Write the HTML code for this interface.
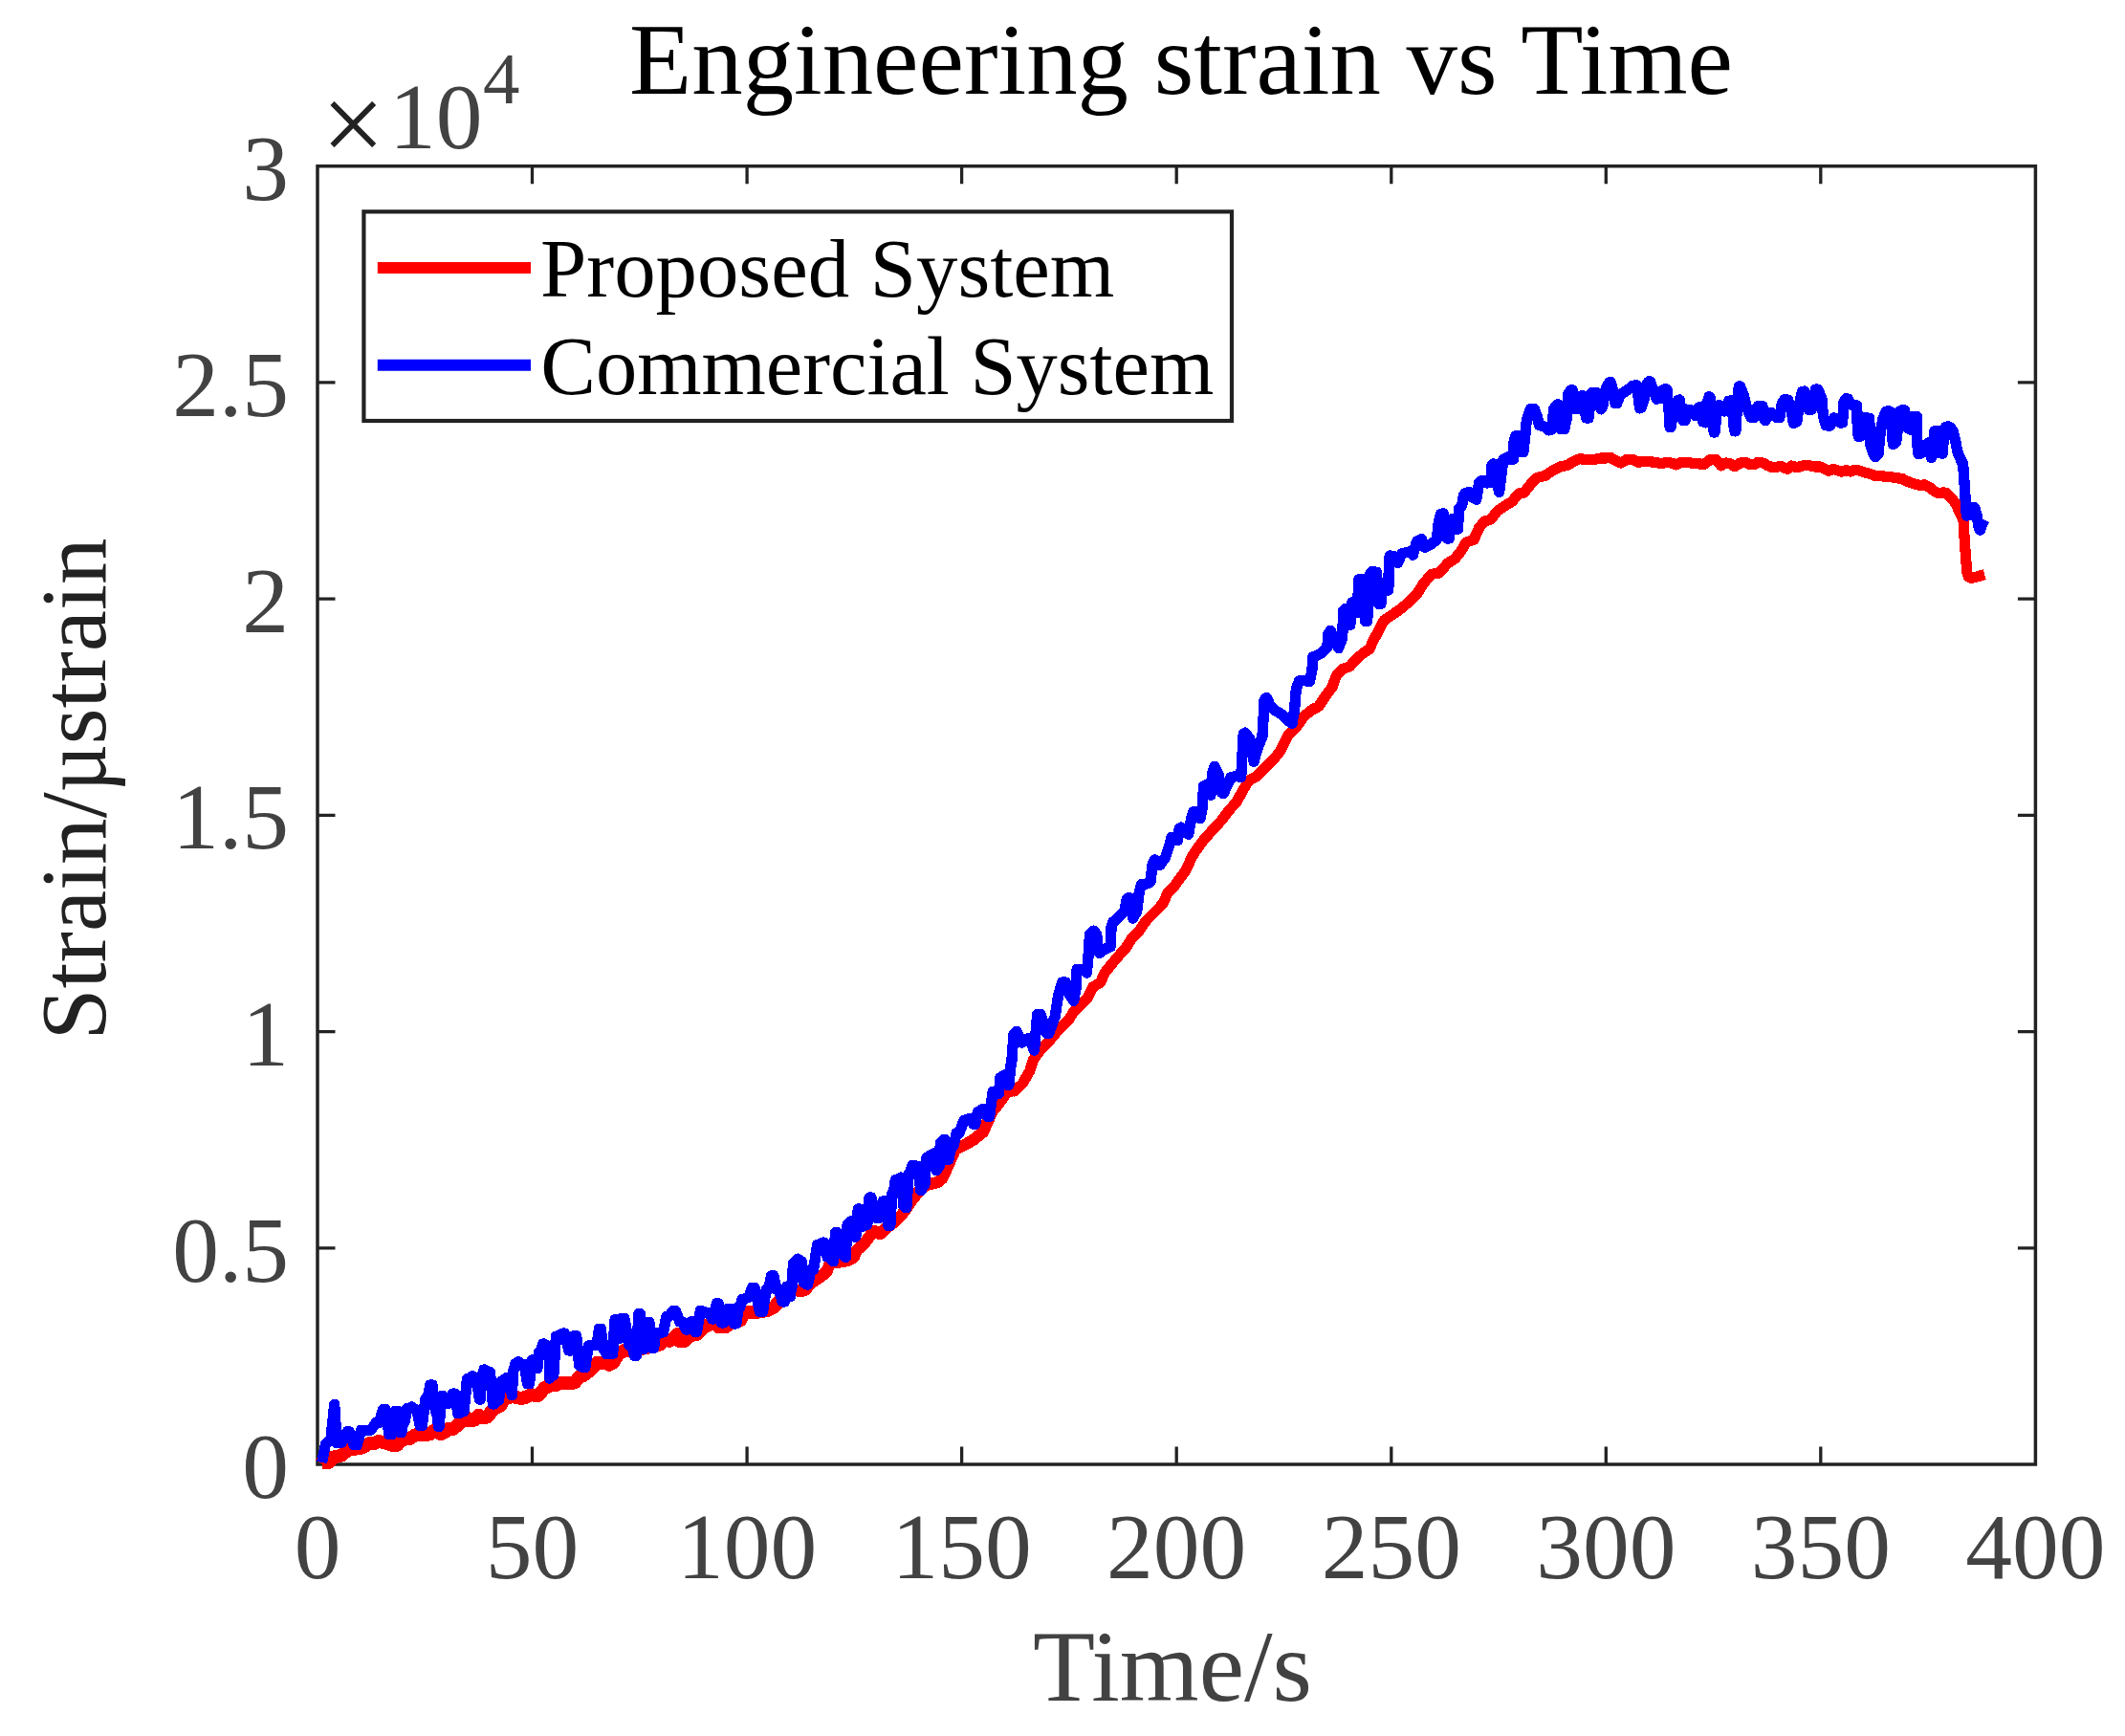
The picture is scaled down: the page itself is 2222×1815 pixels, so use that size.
<!DOCTYPE html>
<html lang="en"><head><meta charset="utf-8"><title>Engineering strain vs Time</title>
<style>html,body{margin:0;padding:0;background:#fff}svg{display:block}text{font-family:"Liberation Serif","Times New Roman",serif}</style></head><body>
<svg width="2222" height="1815" viewBox="0 0 2222 1815">
<rect width="2222" height="1815" fill="#fff"/>
<rect x="332.0" y="173.7" width="1796.4" height="1357.3" fill="none" stroke="#222222" stroke-width="3.5"/>
<path d="M556.5,1531.0v-18.5M556.5,173.7v18.5M781.1,1531.0v-18.5M781.1,173.7v18.5M1005.6,1531.0v-18.5M1005.6,173.7v18.5M1230.2,1531.0v-18.5M1230.2,173.7v18.5M1454.8,1531.0v-18.5M1454.8,173.7v18.5M1679.3,1531.0v-18.5M1679.3,173.7v18.5M1903.8,1531.0v-18.5M1903.8,173.7v18.5M332.0,1304.8h18.5M2128.4,1304.8h-18.5M332.0,1078.6h18.5M2128.4,1078.6h-18.5M332.0,852.4h18.5M2128.4,852.4h-18.5M332.0,626.1h18.5M2128.4,626.1h-18.5M332.0,399.9h18.5M2128.4,399.9h-18.5" stroke="#222222" stroke-width="3.3" fill="none"/>
<g id="curves" shape-rendering="crispEdges"><polyline points="336.0,1530.2 336.5,1529.4 343.2,1529.4 348.1,1523.8 356.7,1521.7 364.0,1516.0 371.4,1514.7 378.7,1513.5 386.1,1509.1 391.0,1509.1 395.9,1506.9 403.2,1508.5 410.5,1510.9 415.4,1510.9 420.3,1504.9 427.7,1504.2 435.0,1500.0 442.4,1500.5 449.7,1499.3 454.6,1495.2 460.7,1499.3 465.6,1496.8 468.7,1494.1 474.2,1493.8 481.5,1487.0 487.6,1481.5 490.1,1485.2 496.2,1484.6 500.5,1479.7 504.8,1482.2 509.6,1481.5 515.8,1473.0 523.1,1469.9 526.8,1462.6 535.3,1460.1 545.1,1462.0 550.0,1460.7 554.9,1458.3 562.9,1458.9 569.6,1451.0 578.2,1447.6 581.6,1448.2 584.7,1445.8 592.0,1445.8 596.3,1446.4 601.2,1445.2 605.5,1439.7 609.2,1438.5 617.7,1432.3 623.8,1425.0 631.2,1424.4 637.3,1426.8 641.6,1424.4 645.9,1416.4 653.2,1411.5 659.3,1411.5 667.9,1410.9 677.7,1408.5 687.5,1406.0 690.5,1405.4 693.6,1399.9 699.7,1401.8 705.8,1398.1 708.3,1395.0 710.7,1401.8 716.2,1401.8 721.1,1396.2 729.1,1395.0 736.4,1387.1 743.7,1384.0 746.8,1381.6 751.1,1387.1 759.0,1387.1 764.5,1383.4 774.3,1380.3 778.0,1372.4 787.8,1372.4 795.1,1371.2 803.1,1369.9 809.8,1366.3 815.9,1359.5 822.0,1354.6 829.2,1347.4 836.7,1350.2 841.7,1348.9 848.4,1341.3 858.4,1334.7 864.3,1329.6 868.5,1319.6 876.8,1319.6 886.8,1317.9 892.7,1314.6 896.0,1307.1 903.5,1300.4 913.6,1287.0 920.3,1290.0 926.9,1283.7 937.0,1276.2 942.8,1270.3 953.7,1254.4 961.2,1245.3 967.0,1239.4 980.4,1236.1 985.4,1231.9 991.3,1218.5 998.8,1201.8 1010.5,1196.0 1018.8,1191.0 1028.0,1183.4 1037.2,1162.5 1045.6,1151.7 1053.9,1139.3 1060.6,1141.0 1069.0,1133.1 1076.6,1120.0 1080.6,1107.7 1088.7,1096.5 1098.4,1086.8 1106.5,1077.1 1117.7,1065.8 1122.6,1057.7 1130.6,1049.7 1137.1,1043.2 1142.7,1031.9 1150.8,1027.1 1154.8,1017.4 1161.3,1009.4 1169.4,999.7 1177.4,990.8 1183.9,980.3 1191.9,972.3 1198.4,962.6 1208.1,952.9 1216.1,944.8 1221.0,933.5 1227.4,927.1 1233.9,918.2 1240.3,909.4 1246.0,896.5 1250.0,890.0 1259.2,877.3 1268.4,867.3 1277.6,857.3 1285.1,847.3 1292.6,838.9 1300.2,825.5 1306.0,815.5 1313.5,812.2 1323.6,802.1 1331.9,793.8 1338.6,785.4 1346.9,768.7 1355.3,760.4 1363.7,748.7 1372.0,742.0 1378.7,738.7 1385.4,728.6 1392.9,718.6 1397.1,706.9 1403.7,699.4 1411.3,696.9 1417.1,690.2 1424.6,683.5 1432.1,678.5 1435.9,669.5 1441.5,659.8 1447.0,648.8 1455.3,643.2 1465.0,636.3 1473.3,629.4 1481.6,621.1 1488.5,610.0 1496.8,600.4 1505.1,599.0 1513.4,589.3 1521.7,583.8 1528.6,574.8 1532.7,567.2 1541.0,564.4 1546.5,552.0 1552.1,545.1 1559.0,543.0 1565.9,534.0 1574.2,528.5 1581.1,524.3 1588.0,516.0 1593.5,515.3 1600.5,506.4 1607.4,499.4 1615.7,497.4 1622.6,492.5 1630.9,488.4 1632.6,487.7 1639.3,486.2 1646.1,482.0 1652.2,479.5 1657.7,480.7 1665.6,480.7 1673.0,479.1 1680.3,478.9 1684.0,478.3 1687.7,480.7 1695.0,484.0 1700.5,480.7 1707.2,480.5 1713.4,483.5 1718.3,482.2 1725.6,482.8 1731.7,483.5 1737.8,484.8 1742.7,483.2 1749.5,484.4 1752.5,486.0 1758.0,483.2 1764.8,483.2 1769.4,484.3 1777.0,485.0 1781.9,485.3 1788.0,480.7 1794.1,480.5 1799.6,486.8 1804.5,484.0 1809.4,485.0 1813.9,487.7 1819.8,484.0 1825.0,483.2 1829.6,485.5 1835.1,485.3 1838.7,483.1 1844.5,484.3 1847.4,486.3 1852.0,488.3 1856.0,488.9 1862.0,487.1 1866.8,489.6 1869.0,490.3 1873.3,487.0 1877.6,488.3 1882.6,487.9 1887.2,486.3 1892.0,486.8 1897.8,488.0 1903.5,488.0 1909.3,491.2 1912.2,492.2 1916.8,490.4 1920.8,491.6 1925.6,493.2 1930.4,491.7 1935.2,493.0 1939.5,491.2 1943.8,492.0 1949.6,493.8 1955.4,495.3 1960.8,497.6 1968.3,497.9 1976.2,498.5 1982.7,499.8 1988.5,500.2 1992.8,502.7 2001.4,505.9 2007.2,507.4 2012.2,506.9 2017.6,509.3 2023.0,513.9 2027.4,515.9 2032.4,514.8 2035.3,515.5 2040.3,520.5 2044.4,525.7 2048.2,533.4 2053.0,544.2 2054.4,567.2 2055.9,587.4 2056.9,598.9 2058.3,602.9 2061.2,604.4 2067.7,602.9 2075.2,600.6" fill="none" stroke="#ff0000" stroke-width="11.2" stroke-linejoin="round" stroke-linecap="butt"/>
<polyline points="336.0,1530.2 336.5,1529.4 343.2,1529.4 348.1,1523.8 356.7,1521.7 364.0,1516.0 371.4,1514.7 378.7,1513.5 386.1,1509.1 391.0,1509.1 395.9,1506.9 403.2,1508.5 410.5,1510.9 415.4,1510.9 420.3,1504.9 427.7,1504.2 435.0,1500.0 442.4,1500.5 449.7,1499.3 454.6,1495.2 460.7,1499.3 465.6,1496.8 468.7,1494.1 474.2,1493.8 481.5,1487.0 487.6,1481.5 490.1,1485.2 496.2,1484.6 500.5,1479.7 504.8,1482.2 509.6,1481.5 515.8,1473.0 523.1,1469.9 526.8,1462.6 535.3,1460.1 545.1,1462.0 550.0,1460.7 554.9,1458.3 562.9,1458.9 569.6,1451.0 578.2,1447.6 581.6,1448.2 584.7,1445.8 592.0,1445.8 596.3,1446.4 601.2,1445.2 605.5,1439.7 609.2,1438.5 617.7,1432.3 623.8,1425.0 631.2,1424.4 637.3,1426.8 641.6,1424.4 645.9,1416.4 653.2,1411.5 659.3,1411.5 667.9,1410.9 677.7,1408.5 687.5,1406.0 690.5,1405.4 693.6,1399.9 699.7,1401.8 705.8,1398.1 708.3,1395.0 710.7,1401.8 716.2,1401.8 721.1,1396.2 729.1,1395.0 736.4,1387.1 743.7,1384.0 746.8,1381.6 751.1,1387.1 759.0,1387.1 764.5,1383.4 774.3,1380.3 778.0,1372.4 787.8,1372.4 795.1,1371.2 803.1,1369.9 809.8,1366.3 815.9,1359.5 822.0,1354.6 829.2,1347.4 836.7,1350.2 841.7,1348.9 848.4,1341.3 858.4,1334.7 864.3,1329.6 868.5,1319.6 876.8,1319.6 886.8,1317.9 892.7,1314.6 896.0,1307.1 903.5,1300.4 913.6,1287.0 920.3,1290.0 926.9,1283.7 937.0,1276.2 942.8,1270.3 953.7,1254.4 961.2,1245.3 967.0,1239.4 980.4,1236.1 985.4,1231.9 991.3,1218.5 998.8,1201.8 1010.5,1196.0 1018.8,1191.0 1028.0,1183.4 1037.2,1162.5 1045.6,1151.7 1053.9,1139.3 1060.6,1141.0" fill="none" stroke="#ff0000" stroke-width="12.4" stroke-linejoin="round" stroke-linecap="butt"/>
<polyline points="336.0,1530.2 336.5,1529.4 343.2,1529.4 348.1,1523.8 356.7,1521.7 364.0,1516.0 371.4,1514.7 378.7,1513.5 386.1,1509.1 391.0,1509.1 395.9,1506.9 403.2,1508.5 410.5,1510.9 415.4,1510.9 420.3,1504.9 427.7,1504.2 435.0,1500.0 442.4,1500.5 449.7,1499.3 454.6,1495.2 460.7,1499.3 465.6,1496.8 468.7,1494.1 474.2,1493.8 481.5,1487.0 487.6,1481.5 490.1,1485.2 496.2,1484.6 500.5,1479.7 504.8,1482.2 509.6,1481.5 515.8,1473.0 523.1,1469.9 526.8,1462.6 535.3,1460.1 545.1,1462.0 550.0,1460.7 554.9,1458.3 562.9,1458.9 569.6,1451.0 578.2,1447.6 581.6,1448.2 584.7,1445.8 592.0,1445.8 596.3,1446.4 601.2,1445.2 605.5,1439.7 609.2,1438.5 617.7,1432.3 623.8,1425.0 631.2,1424.4 637.3,1426.8 641.6,1424.4 645.9,1416.4 653.2,1411.5 659.3,1411.5 667.9,1410.9 677.7,1408.5 687.5,1406.0 690.5,1405.4 693.6,1399.9 699.7,1401.8 705.8,1398.1 708.3,1395.0 710.7,1401.8 716.2,1401.8 721.1,1396.2 729.1,1395.0 736.4,1387.1 743.7,1384.0 746.8,1381.6 751.1,1387.1 759.0,1387.1 764.5,1383.4 774.3,1380.3 778.0,1372.4 787.8,1372.4 795.1,1371.2 803.1,1369.9 809.8,1366.3 815.9,1359.5 822.0,1354.6" fill="none" stroke="#ff0000" stroke-width="14" stroke-linejoin="round" stroke-linecap="butt"/>
<polyline points="336.6,1529.1 340.4,1510.1 345.9,1505.0 349.7,1468.3 352.2,1508.8 357.0,1508.4 363.2,1496.7 365.0,1496.7 370.2,1510.8 372.0,1510.8 373.3,1510.8 377.4,1495.4 378.7,1495.4 386.1,1495.1 387.9,1495.1 393.3,1487.2 395.1,1487.2 396.5,1487.2 400.6,1473.5 402.0,1473.5 403.2,1473.5 406.9,1499.8 408.1,1499.8 409.4,1499.8 413.3,1475.4 414.6,1475.4 415.6,1475.4 418.4,1497.8 419.4,1497.8 419.9,1497.8 421.6,1486.8 422.2,1486.8 423.0,1486.8 425.6,1472.8 426.4,1472.8 430.7,1471.0 435.0,1474.6 436.1,1474.6 439.2,1490.5 440.2,1490.5 441.4,1490.5 444.9,1462.4 446.0,1462.4 447.0,1462.4 449.9,1448.0 450.9,1448.0 452.0,1448.0 455.3,1474.6 456.4,1474.6 458.6,1491.5 459.3,1491.5 461.5,1459.6 462.2,1459.6 463.4,1459.6 466.9,1467.2 468.0,1467.2 469.4,1467.2 473.4,1457.1 474.8,1457.1 475.8,1457.1 478.7,1477.8 479.7,1477.8 484.0,1475.8 485.1,1475.8 488.4,1441.6 489.5,1441.6 493.7,1439.0 494.6,1439.0 497.2,1446.4 498.0,1446.4 498.9,1446.4 501.4,1463.1 502.3,1463.1 503.5,1437.9 504.1,1437.9 506.0,1432.0 506.6,1432.0 511.5,1434.8 512.5,1434.8 515.4,1468.0 516.4,1468.0 520.7,1463.6 521.6,1463.6 524.6,1444.0 525.6,1444.0 529.2,1440.8 530.2,1440.8 533.1,1447.7 534.1,1447.7 535.3,1458.7 536.8,1433.0 539.0,1425.6 542.1,1423.9 547.0,1426.9 548.1,1426.9 551.6,1446.8 552.8,1446.8 553.6,1446.8 556.0,1421.9 556.8,1421.9 561.6,1425.6 562.0,1430.5 563.7,1413.4 564.8,1413.4 567.9,1405.0 569.0,1405.0 573.9,1408.5 574.7,1441.1 577.9,1437.9 578.8,1437.9 581.4,1397.2 582.2,1397.2 589.0,1394.1 590.4,1394.1 594.7,1411.9 596.1,1411.9 597.2,1411.9 600.6,1396.4 601.7,1396.4 602.7,1396.4 605.7,1427.8 606.7,1427.8 610.7,1429.8 611.8,1429.8 615.3,1407.0 616.5,1407.0 623.2,1406.4 624.0,1406.4 626.5,1389.2 627.3,1389.2 628.2,1389.2 631.2,1410.7 632.2,1410.7 634.2,1415.7 640.7,1415.7 643.0,1379.6 643.7,1379.6 646.0,1399.4 646.7,1399.4 647.6,1399.4 650.3,1378.3 651.2,1378.3 652.9,1378.3 657.7,1405.8 659.3,1405.8 660.4,1405.8 663.5,1417.6 664.5,1417.6 665.4,1417.6 667.9,1373.4 668.8,1373.4 669.4,1373.4 671.3,1410.7 671.9,1410.7 673.1,1410.7 676.6,1382.2 677.8,1382.2 678.8,1382.2 681.9,1409.5 682.9,1409.5 683.6,1409.5 685.6,1393.3 686.2,1393.3 692.4,1393.0 693.5,1393.0 696.8,1376.4 697.9,1376.4 699.3,1376.4 703.5,1370.6 704.9,1370.6 706.4,1370.6 710.8,1382.0 712.2,1382.0 713.5,1382.0 717.1,1390.0 718.4,1390.0 719.4,1390.0 722.6,1382.0 723.7,1382.0 724.4,1382.0 726.7,1392.4 727.4,1392.4 728.6,1392.4 732.3,1370.5 733.5,1370.5 740.7,1373.0 741.7,1373.0 744.8,1378.9 745.9,1378.9 746.7,1378.9 749.2,1362.9 750.0,1362.9 751.1,1362.9 754.3,1382.9 755.4,1382.9 756.8,1382.9 761.2,1368.2 762.7,1368.2 764.0,1368.2 767.7,1383.9 769.0,1383.9 769.8,1383.9 772.3,1366.7 773.1,1366.7 773.8,1366.7 776.0,1358.6 776.8,1358.6 782.3,1356.2 783.3,1356.2 786.4,1346.3 787.4,1346.3 789.2,1346.3 794.5,1371.6 796.3,1371.6 797.5,1371.6 801.2,1348.3 802.5,1348.3 803.5,1348.3 806.6,1333.9 807.7,1333.9 808.8,1333.9 812.3,1348.3 813.5,1348.3 814.6,1348.3 818.1,1360.9 819.3,1360.9 820.2,1360.9 822.7,1345.1 823.6,1345.1 824.1,1345.1 825.8,1355.6 826.3,1355.6 827.5,1345.7 828.0,1345.7 829.5,1320.6 830.0,1320.6 834.2,1316.3 837.5,1318.9 838.2,1318.9 840.2,1340.7 840.9,1340.7 843.4,1343.0 844.6,1343.0 848.1,1327.3 849.2,1327.3 850.6,1327.3 854.6,1301.6 855.9,1301.6 860.9,1299.1 861.9,1299.1 864.9,1313.9 866.0,1313.9 871.0,1318.8 871.6,1318.8 873.5,1288.5 874.1,1288.5 875.3,1288.5 879.0,1310.6 880.2,1310.6 884.3,1314.6 886.0,1280.5 890.2,1276.5 890.9,1276.5 893.2,1293.0 893.9,1293.0 894.8,1293.0 897.3,1264.0 898.1,1264.0 898.9,1264.0 901.1,1282.2 901.9,1282.2 906.1,1280.3 906.8,1280.3 909.1,1252.0 909.8,1252.0 910.9,1252.0 914.2,1263.8 915.2,1263.8 915.7,1263.8 917.2,1273.8 917.8,1273.8 919.1,1273.8 923.1,1256.0 924.4,1256.0 925.6,1256.0 928.9,1281.3 930.0,1281.3 930.8,1281.3 932.9,1247.1 933.6,1247.1 934.3,1247.1 936.3,1233.9 937.0,1233.9 942.0,1231.1 942.6,1231.1 944.7,1260.5 945.3,1260.5 947.0,1262.8 947.8,1262.8 950.3,1227.0 951.2,1227.0 951.8,1227.0 953.8,1218.4 954.5,1218.4 960.4,1219.7 962.6,1244.5 963.3,1244.5 965.5,1238.7 966.2,1238.7 966.9,1238.7 968.9,1210.3 969.6,1210.3 973.7,1207.2 977.9,1205.5 979.1,1223.7 982.1,1219.4 983.3,1195.3 987.1,1191.3 987.8,1191.3 990.1,1212.3 990.9,1212.3 991.9,1212.3 995.2,1197.0 996.3,1197.0 997.3,1197.0 1000.3,1184.6 1001.3,1184.6 1003.0,1184.6 1008.0,1171.2 1009.7,1171.2 1013.8,1169.2 1014.8,1169.2 1017.8,1175.2 1018.8,1175.2 1019.7,1175.2 1022.2,1162.9 1023.0,1162.9 1028.0,1159.2 1029.1,1159.2 1032.4,1167.3 1033.5,1167.3 1034.6,1167.3 1038.1,1141.6 1039.3,1141.6 1043.9,1143.3 1044.4,1143.3 1045.9,1126.8 1046.4,1126.8 1049.8,1124.1 1050.7,1124.1 1053.4,1134.2 1054.4,1134.2 1055.0,1134.2 1057.0,1113.4 1057.6,1113.4 1059.3,1090.0 1059.7,1081.9 1062.9,1078.2 1068.5,1090.0 1075.8,1085.2 1081.5,1098.1 1084.7,1060.2 1087.9,1060.2 1094.4,1080.3 1096.8,1080.3 1103.2,1062.6 1106.5,1041.6 1110.5,1027.1 1114.5,1027.1 1118.5,1040.0 1122.6,1046.5 1125.0,1033.5 1126.1,1013.4 1132.3,1013.4 1136.3,1017.1 1137.9,1001.3 1139.5,977.1 1143.5,973.1 1146.8,977.1 1147.9,994.8 1149.5,996.5 1156.5,991.6 1161.0,990.0 1162.1,969.0 1163.7,964.2 1169.4,959.4 1175.8,952.9 1178.2,940.0 1180.6,938.4 1183.1,952.9 1184.7,960.2 1188.7,952.9 1191.1,933.5 1193.5,924.7 1199.2,923.9 1203.2,921.9 1204.8,904.5 1207.3,898.9 1211.3,901.3 1212.9,904.5 1218.5,896.5 1223.4,881.9 1225.0,875.5 1229.0,877.1 1231.5,878.7 1233.1,866.6 1235.0,865.0 1238.7,869.0 1242.7,872.3 1245.6,856.1 1247.6,848.9 1250.9,848.9 1255.1,855.6 1257.6,842.2 1258.4,822.2 1260.9,820.9 1265.9,831.4 1267.6,808.8 1270.1,801.3 1274.3,810.5 1277.6,828.9 1279.3,829.7 1283.5,820.5 1286.8,813.0 1292.6,811.3 1297.7,812.5 1299.3,783.8 1300.2,767.1 1301.8,766.2 1306.8,772.1 1311.0,796.3 1314.4,783.8 1319.9,770.4 1321.1,750.4 1321.9,732.0 1324.4,729.5 1328.6,738.7 1333.6,742.8 1340.3,747.0 1346.9,753.7 1351.1,756.2 1353.6,742.0 1355.3,720.3 1358.6,711.9 1363.7,711.6 1369.5,712.3 1372.0,700.2 1372.8,686.9 1377.0,685.2 1382.0,682.7 1387.9,676.8 1388.7,663.5 1391.2,659.3 1395.4,670.2 1399.6,677.7 1403.7,666.8 1404.6,638.4 1407.1,636.4 1409.7,652.2 1411.8,653.6 1413.8,629.7 1416.6,640.5 1419.4,640.5 1420.7,605.9 1425.6,605.9 1427.0,633.5 1427.6,649.4 1429.7,649.4 1431.1,619.7 1432.5,600.4 1434.6,597.6 1439.4,598.3 1440.8,619.7 1441.5,631.5 1444.0,631.5 1444.9,610.0 1447.0,609.4 1448.4,617.0 1451.8,617.0 1452.3,592.1 1453.2,581.0 1458.1,581.7 1461.5,588.6 1465.7,578.9 1474.7,576.6 1477.4,580.3 1479.5,572.7 1481.6,565.8 1486.4,563.7 1489.9,572.4 1496.8,568.6 1502.3,564.4 1504.4,545.1 1506.5,537.5 1509.2,536.8 1512.0,550.6 1513.4,563.0 1515.4,563.0 1516.8,543.0 1520.3,542.3 1521.7,553.4 1524.4,553.1 1525.8,531.2 1528.6,528.5 1530.6,517.4 1532.7,515.3 1536.9,514.7 1539.6,520.2 1543.8,522.3 1546.5,505.0 1548.6,502.9 1554.1,502.5 1554.8,505.0 1559.0,504.3 1559.7,487.0 1561.1,484.9 1565.2,485.6 1566.6,509.1 1567.6,514.4 1570.0,495.3 1572.1,480.1 1576.3,478.0 1578.3,480.4 1582.5,480.1 1583.2,460.7 1584.6,455.9 1588.7,455.5 1590.8,472.5 1592.9,472.5 1594.9,453.8 1596.3,440.0 1598.4,433.6 1600.2,427.8 1604.5,427.8 1607.5,436.1 1609.4,444.6 1614.9,446.0 1619.2,449.9 1622.8,448.9 1624.7,427.5 1628.1,422.9 1629.9,422.9 1631.4,443.4 1632.6,448.7 1635.7,448.7 1638.1,438.5 1640.0,411.6 1642.4,407.8 1644.2,407.8 1646.1,418.9 1647.0,427.6 1649.7,427.6 1652.2,416.5 1653.4,413.9 1654.9,413.9 1656.5,428.7 1658.9,437.0 1661.0,437.0 1663.0,418.9 1664.4,410.9 1669.9,410.9 1672.4,423.8 1674.2,427.9 1676.0,423.8 1679.1,406.7 1682.8,399.7 1684.2,399.6 1687.7,412.8 1688.9,421.8 1690.7,421.8 1693.8,414.0 1697.5,410.4 1702.4,407.3 1707.2,403.3 1711.5,402.9 1713.6,418.9 1714.6,426.9 1716.1,426.3 1719.5,416.5 1721.9,401.8 1724.1,398.8 1725.4,398.8 1728.0,405.5 1730.5,411.6 1732.3,417.1 1736.0,416.5 1738.4,407.9 1740.3,407.0 1743.0,407.0 1745.2,431.2 1746.2,446.8 1747.1,446.8 1749.5,431.2 1754.4,418.6 1756.2,418.0 1758.4,431.2 1759.9,439.5 1762.1,439.5 1763.5,428.1 1767.2,428.5 1770.9,432.4 1772.7,434.6 1775.8,426.3 1779.4,425.1 1780.9,441.0 1783.7,441.9 1785.8,418.9 1787.0,414.9 1788.0,414.9 1790.7,443.4 1792.3,452.1 1793.1,452.1 1795.1,431.2 1797.2,423.8 1800.2,424.4 1802.7,430.0 1805.7,427.5 1807.6,419.2 1811.0,418.9 1812.7,443.4 1813.9,450.9 1814.9,450.9 1816.8,418.9 1818.3,403.9 1819.6,403.9 1823.5,414.0 1825.9,423.8 1828.4,431.2 1830.8,436.1 1833.9,436.7 1836.3,428.7 1838.2,424.7 1840.2,424.9 1843.0,424.9 1844.5,437.6 1845.9,439.8 1847.4,431.8 1852.4,431.6 1857.4,436.4 1861.0,436.4 1863.2,421.8 1866.1,417.7 1869.7,418.2 1872.6,427.5 1875.4,442.6 1879.0,440.5 1881.2,423.2 1884.5,409.5 1887.1,409.1 1891.3,428.2 1894.2,428.2 1898.5,407.1 1900.9,407.1 1905.0,417.4 1906.4,434.7 1909.3,444.8 1913.6,445.1 1917.9,436.9 1920.8,438.3 1923.7,441.9 1926.6,441.9 1928.0,420.3 1930.2,416.7 1932.6,417.2 1935.2,423.2 1939.5,423.9 1941.7,423.9 1942.4,452.0 1943.4,456.6 1946.7,455.6 1948.9,437.6 1950.3,436.4 1954.6,437.3 1956.1,466.4 1959.0,475.0 1961.1,477.6 1964.0,475.0 1966.2,452.0 1969.0,437.6 1971.9,430.4 1974.8,429.7 1976.7,430.4 1978.4,452.0 1979.4,464.7 1982.7,462.1 1984.9,444.8 1987.0,429.7 1988.8,428.7 1991.6,429.0 1995.0,447.7 1997.8,449.1 2000.0,435.4 2004.3,435.4 2005.0,466.4 2006.0,474.8 2010.1,473.3 2012.2,469.3 2014.4,466.4 2016.6,462.8 2019.4,478.6 2021.6,466.4 2023.0,450.6 2024.5,450.3 2027.6,450.3 2028.2,473.6 2031.0,474.3 2033.1,452.0 2034.8,446.2 2038.2,446.0 2041.8,449.8 2044.6,460.6 2046.8,472.2 2050.4,480.8 2052.6,485.1 2054.4,509.6 2055.6,529.8 2056.4,539.1 2059.8,538.4 2061.9,530.9 2064.8,530.9 2067.0,538.4 2069.1,551.4 2070.6,554.2 2072.3,548.5 2077.2,551.1" fill="none" stroke="#0000ff" stroke-width="11.3" stroke-linejoin="round" stroke-linecap="butt"/>
</g>
<g font-size="97.5" fill="#424242" text-anchor="middle"><text x="332.0" y="1649.6">0</text><text x="556.5" y="1649.6">50</text><text x="781.1" y="1649.6">100</text><text x="1005.6" y="1649.6">150</text><text x="1230.2" y="1649.6">200</text><text x="1454.8" y="1649.6">250</text><text x="1679.3" y="1649.6">300</text><text x="1903.8" y="1649.6">350</text><text x="2128.4" y="1649.6">400</text></g>
<g font-size="97.5" fill="#424242" text-anchor="end"><text x="302" y="1565.9">0</text><text x="302" y="1339.7">0.5</text><text x="302" y="1113.5">1</text><text x="302" y="887.2">1.5</text><text x="302" y="661.0">2</text><text x="302" y="434.8">2.5</text><text x="302" y="208.6">3</text></g>
<text x="332.3" y="158" font-size="88.5" fill="#222222" stroke="#fff" stroke-width="1.5" style="font-family:'DejaVu Sans',sans-serif">×</text>
<text x="406.9" y="155" font-size="97.5" fill="#424242">10</text>
<text x="505" y="107.5" font-size="77" fill="#424242">4</text>
<text x="1235" y="98" font-size="106.8" fill="#000" text-anchor="middle">Engineering strain vs Time</text>
<text x="1226" y="1777.7" font-size="106.5" fill="#424242" text-anchor="middle">Time/s</text>
<text transform="translate(110.2,1087.5) rotate(-90)" font-size="97.2" fill="#222222">Strain/<tspan textLength="50" lengthAdjust="spacingAndGlyphs">µ</tspan>strain</text>
<rect x="380.4" y="221.3" width="907.6" height="218.7" fill="#fff" stroke="#222222" stroke-width="4.2"/>
<path d="M394.8,279.9H555" stroke="#ff0000" stroke-width="12" fill="none"/>
<path d="M394.8,381.8H555" stroke="#0000ff" stroke-width="12" fill="none"/>
<text x="565" y="310.2" font-size="86.8" fill="#000">Proposed System</text>
<text x="565.3" y="411.7" font-size="86.5" fill="#000">Commercial System</text>
</svg></body></html>
